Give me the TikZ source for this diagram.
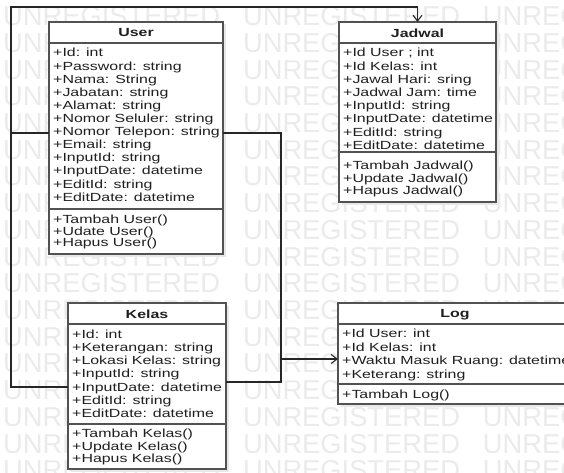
\documentclass[tikz,border=0pt]{standalone}
\usepackage{fontspec}
\setmainfont{Liberation Sans}
\newfontfamily\umlfont[FakeStretch=1.35]{Liberation Sans}
\newfontfamily\wmfont{Liberation Sans}
\usetikzlibrary{arrows.meta,calc,shadows}
\begin{document}
\begin{tikzpicture}[x=1pt,y=-1pt,
  wm/.style={anchor=base west, inner sep=0, text=black!8, font=\wmfont\fontsize{27.3}{30}\selectfont},
  cls/.style={draw=black!68, line width=1.3pt, fill=white, inner sep=0, outer sep=0, anchor=north west,
    drop shadow={shadow xshift=2.5pt, shadow yshift=-2.5pt, fill=black!9, opacity=1}},
  sepline/.style={draw=black!68, line width=1.1pt},
  attr/.style={anchor=base west, inner sep=0, text=black!88, font=\umlfont\fontsize{11.8}{13}\selectfont},
  ttl/.style={anchor=base, inner sep=0, text=black!88, font=\umlfont\bfseries\fontsize{11.8}{13}\selectfont},
  conn/.style={draw=black!85, line width=1.1pt},
  arr/.style={conn, -{Straight Barb[length=6pt,width=9pt]}}]
\useasboundingbox (0,0) rectangle (564,473);
\clip (0,0) rectangle (564,473);
\fill[white] (0,0) rectangle (564,473);
% watermark
\foreach \r in {0,...,17}
  \node[wm] (wm\r) at (3, 25.8+26.7*\r) {UNREGISTERED\hspace{23pt}UNREGISTERED\hspace{23pt}UNREGISTERED};
% User
\node[cls, minimum width=174, minimum height=232] (user) at (49,22) {};
\draw[sepline] ($(user.north west)+(0,21)$) -- ($(user.north east)+(0,21)$);
\draw[sepline] ($(user.north west)+(0,187)$) -- ($(user.north east)+(0,187)$);
\node[ttl] (usert) at (136,37) {User};
\foreach \t [count=\i from 0] in {+Id: int, +Password: string, +Nama: String, +Jabatan: string, +Alamat: string, +Nomor Seluler: string, +Nomor Telepon: string, +Email: string, +InputId: string, +InputDate: datetime, +EditId: string, +EditDate: datetime}
  \node[attr] (ua\i) at (53, 56.9+13.12*\i) {\t};
\foreach \t [count=\i from 0] in {+Tambah User(), +Udate User(), +Hapus User()}
  \node[attr] (um\i) at (53, 223.5+11.5*\i) {\t};
% Jadwal
\node[cls, minimum width=157, minimum height=180] (jadwal) at (339,22) {};
\draw[sepline] ($(jadwal.north west)+(0,21)$) -- ($(jadwal.north east)+(0,21)$);
\draw[sepline] ($(jadwal.north west)+(0,130)$) -- ($(jadwal.north east)+(0,130)$);
\node[ttl] (jadwalt) at (417.5,37.3) {Jadwal};
\foreach \t [count=\i from 0] in {+Id User ; int, +Id Kelas: int, +Jawal Hari: sring, +Jadwal Jam: time, +InputId: string, +InputDate: datetime, +EditId: string, +EditDate: datetime}
  \node[attr] (ja\i) at (343, 56.9+13.19*\i) {\t};
\foreach \t [count=\i from 0] in {+Tambah Jadwal(), +Update Jadwal(), +Hapus Jadwal()}
  \node[attr] (jm\i) at (343, 169.9+12.15*\i) {\t};
% Kelas
\node[cls, minimum width=158, minimum height=166] (kelas) at (68,303) {};
\draw[sepline] ($(kelas.north west)+(0,21)$) -- ($(kelas.north east)+(0,21)$);
\draw[sepline] ($(kelas.north west)+(0,121)$) -- ($(kelas.north east)+(0,121)$);
\node[ttl] (kelast) at (147,318.6) {Kelas};
\foreach \t [count=\i from 0] in {+Id: int, +Keterangan: string, +Lokasi Kelas: string, +InputId: string, +InputDate: datetime, +EditId: string, +EditDate: datetime}
  \node[attr] (ka\i) at (72, 338.2+13.2*\i) {\t};
\foreach \t [count=\i from 0] in {+Tambah Kelas(), +Update Kelas(), +Hapus Kelas()}
  \node[attr] (km\i) at (72, 437.5+12.5*\i) {\t};
% Log
\node[cls, minimum width=234, minimum height=101] (log) at (338,303) {};
\draw[sepline] ($(log.north west)+(0,21)$) -- ($(log.north east)+(0,21)$);
\draw[sepline] ($(log.north west)+(0,81)$) -- ($(log.north east)+(0,81)$);
\node[ttl] (logt) at (455,317.6) {Log};
\foreach \t [count=\i from 0] in {+Id User: int, +Id Kelas: int, +Waktu Masuk Ruang: datetime, +Keterang: string}
  \node[attr] (la\i) at (342, 337.5+13.5*\i) {\t};
\node[attr] (lm0) at (342, 398.2) {+Tambah Log()};
% connectors
\coordinate (tl) at (11,7);
\coordinate (bl) at (11,387);
\coordinate (rt) at (281,133);
\coordinate (rb) at (281,382);
\coordinate (rl) at (281,359);
\draw[conn] ($(user.north west)+(0,111)$) -- (tl |- rt);
\draw[arr] ($(kelas.north west)+(0,84)$) -- (bl) -- (tl) -| (jadwal.north);
\draw[conn] ($(user.north east)+(0,111)$) -- (rt) -- (rb) -- (rb -| kelas.east);
\draw[arr] (rl) -- (rl -| log.west);
\end{tikzpicture}
\end{document}
